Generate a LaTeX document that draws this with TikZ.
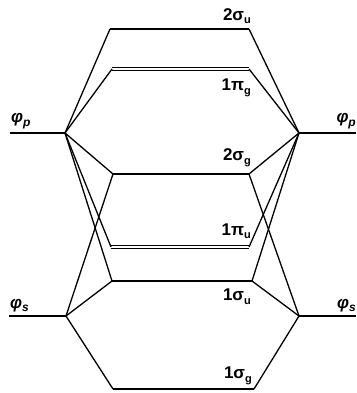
\documentclass[tikz,border=0pt]{standalone}
\usepackage{fontspec}
\setmainfont{Liberation Sans}
\usepackage{tikz}
\usetikzlibrary{positioning}
\tikzset{
  level/.style={line width=1.7pt},
  pilevel/.style={line width=1.3pt, double, double distance=1.4pt},
  corr/.style={line width=1.3pt},
  molabel/.style={font=\fontsize{17}{19}\selectfont\bfseries, inner sep=0pt},
  aolabel/.style={font=\fontsize{17}{19}\selectfont\bfseries\itshape, inner sep=0pt},
}
\newcommand{\molev}[3]{#1#2\raisebox{-0.4ex}{\fontsize{11}{11}\selectfont #3}}
\newcommand{\aolev}[1]{φ\raisebox{-0.4ex}{\fontsize{12}{12}\selectfont #1}}

\begin{document}
\begin{tikzpicture}[x=1pt, y=-1pt]
  \useasboundingbox (0,0) rectangle (356,393);

  % atomic levels (outer)
  \coordinate (pL) at (65,133);  \coordinate (pR) at (299,133);
  \coordinate (sL) at (66,316);  \coordinate (sR) at (299,316);
  \coordinate (pL0) at (10,133); \coordinate (pR0) at (356,133);
  \coordinate (sL0) at (9,316);  \coordinate (sR0) at (356,316);

  % molecular levels (middle)
  \coordinate (su2-L) at (110,29);  \coordinate (su2-R) at (249,29);
  \coordinate (pig-L) at (112,69);  \coordinate (pig-R) at (249,69);
  \coordinate (sg2-L) at (113,174); \coordinate (sg2-R) at (249,174);
  \coordinate (piu-L) at (111,247); \coordinate (piu-R) at (249,247);
  \coordinate (su1-L) at (112,281); \coordinate (su1-R) at (252,281);
  \coordinate (sg1-L) at (113,389); \coordinate (sg1-R) at (254,389);

  \draw[level] (pL0) -- (pL); \draw[level] (pR) -- (pR0);
  \draw[level] (sL0) -- (sL); \draw[level] (sR) -- (sR0);
  \foreach \m in {su2,sg2,su1,sg1}
    \draw[level] (\m-L) -- (\m-R);
  \foreach \m in {pig,piu}
    \draw[pilevel] (\m-L) -- (\m-R);

  % correlation lines
  \foreach \m in {su2,pig,sg2,piu,su1} {
    \draw[corr] (pL) -- (\m-L);
    \draw[corr] (pR) -- (\m-R);
  }
  \foreach \m in {sg2,su1,sg1} {
    \draw[corr] (sL) -- (\m-L);
    \draw[corr] (sR) -- (\m-R);
  }

  % labels
  \node[aolabel, anchor=south west] (lpL) at (11,129) {\aolev{p}};
  \node[aolabel, anchor=south east] (lpR) at (356,129) {\aolev{p}};
  \node[aolabel, anchor=south west] (lsL) at (10,312) {\aolev{s}};
  \node[aolabel, anchor=south east] (lsR) at (356,312) {\aolev{s}};

  \node[molabel, anchor=south east] (l2su) at (251,24) {\molev{2}{σ}{u}};
  \node[molabel, anchor=north east] (l1pg) at (251,79) {\molev{1}{π}{g}};
  \node[molabel, anchor=south east] (l2sg) at (251,167) {\molev{2}{σ}{g}};
  \node[molabel, anchor=south east] (l1pu) at (251,239) {\molev{1}{π}{u}};
  \node[molabel, anchor=north east] (l1su) at (251,289) {\molev{1}{σ}{u}};
  \node[molabel, anchor=south east] (l1sg) at (252,385) {\molev{1}{σ}{g}};
\end{tikzpicture}
\end{document}
